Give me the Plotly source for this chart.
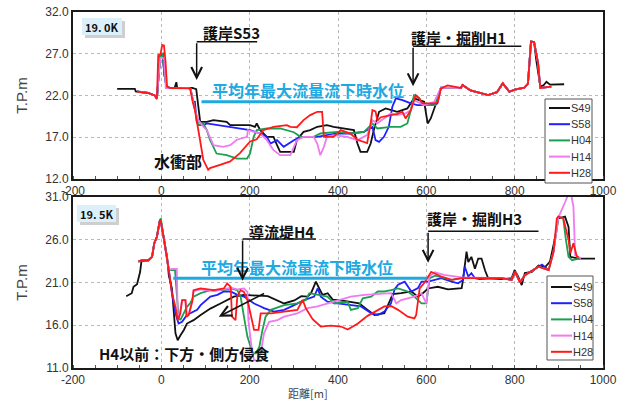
import plotly.graph_objects as go

W, H = 619, 401

series_names = ["S49", "S58", "H04", "H14", "H28"]
series_colors = ["#111111", "#1f1fff", "#1aa050", "#f07af0", "#ff1a1a"]
x_tick_labels = ["-200", "0", "200", "400", "600", "800", "1000"]

# ---------------- 19.0K (top panel) ----------------
top_s49_x = [-100, -60, -58, -45, -30, -15, -10, -6, -2, 3, 7, 12, 20, 30, 34, 36, 40, 60, 70, 79, 84, 88, 103, 118, 148, 156, 201, 212, 216, 224, 239, 254, 262, 269, 300, 307, 322, 337, 353, 375, 390, 413, 436, 444, 451, 466, 474, 481, 493, 508, 519, 534, 557, 572, 584, 595, 603, 610, 622, 629, 633, 650, 678, 682, 700, 740, 760, 773, 788, 800, 822, 830, 837, 844, 849, 858, 865, 872, 880, 912]
top_s49_y = [22.8, 22.8, 22.5, 22.4, 22.3, 22.0, 21.6, 24.5, 26.9, 27.0, 24.5, 23.0, 22.9, 22.9, 23.6, 22.9, 22.9, 22.9, 22.9, 22.75, 20.25, 18.85, 18.85, 19.05, 18.85, 18.45, 18.45, 18.25, 18.65, 17.85, 17.05, 17.05, 16.05, 15.25, 15.25, 16.7, 17.65, 17.85, 18.25, 18.45, 18.25, 18.05, 17.85, 16.25, 15.25, 15.25, 16.25, 17.85, 20.05, 20.45, 20.25, 20.05, 20.45, 21.65, 21.45, 21.25, 18.65, 19.25, 21.05, 22.25, 22.9, 22.9, 22.9, 23.25, 22.6, 22.05, 22.4, 23.45, 22.45, 22.7, 22.95, 23.4, 28.45, 28.4, 26.2, 23.1, 23.2, 23.65, 23.3, 23.35]

top_s58_x = [-55, -30, -15, -10, -6, -2, 3, 7, 12, 20, 40, 60, 66, 72, 76, 80, 84, 95, 103, 125, 148, 178, 201, 224, 239, 247, 262, 277, 300, 315, 322, 353, 375, 398, 428, 459, 478, 485, 493, 504, 515, 523, 531, 546, 565, 580, 610, 625, 633, 650, 678, 682, 700, 740, 760, 773, 788, 800, 822, 830, 837, 844, 853, 858, 883]
top_s58_y = [22.5, 22.3, 22.0, 21.6, 24.5, 26.9, 27.0, 24.5, 23.0, 22.9, 22.9, 22.9, 22.8, 21.3, 21.25, 18.85, 18.45, 18.45, 18.65, 18.45, 18.25, 18.05, 17.85, 17.45, 17.05, 16.25, 16.65, 15.85, 16.65, 17.05, 17.05, 17.05, 17.25, 17.45, 17.45, 17.65, 18.25, 16.65, 16.45, 17.05, 18.25, 20.65, 21.65, 21.45, 21.05, 20.85, 20.85, 21.05, 22.95, 22.9, 22.9, 23.25, 22.6, 22.05, 22.4, 23.45, 22.45, 22.7, 22.95, 23.4, 28.45, 28.4, 25.85, 22.9, 23.05]

top_h04_x = [-55, -30, -15, -10, -6, -2, 3, 7, 12, 20, 40, 60, 66, 72, 76, 84, 95, 103, 110, 125, 148, 171, 194, 201, 209, 216, 239, 269, 300, 315, 345, 360, 398, 428, 459, 478, 489, 519, 542, 557, 565, 572, 584, 591, 620, 633, 650, 678, 682, 700, 740, 760, 773, 788, 800, 822, 830, 837, 844, 853, 858, 883]
top_h04_y = [22.5, 22.3, 22.0, 21.6, 24.5, 26.9, 27.0, 24.5, 23.0, 22.9, 22.9, 22.9, 22.8, 21.3, 20.5, 18.45, 18.65, 17.85, 16.7, 15.05, 14.85, 14.45, 14.45, 15.05, 17.05, 17.85, 18.05, 18.05, 17.6, 17.05, 17.05, 17.45, 17.65, 17.45, 17.65, 18.65, 18.05, 18.25, 18.25, 18.65, 20.25, 22.05, 21.65, 20.85, 20.85, 22.95, 22.9, 22.9, 23.25, 22.6, 22.05, 22.4, 23.45, 22.45, 22.7, 22.95, 23.4, 28.45, 28.4, 25.85, 22.9, 23.05]

top_h14_x = [-55, -30, -15, -10, -6, -2, 3, 7, 10, 12, 20, 40, 60, 66, 72, 76, 84, 92, 103, 110, 118, 140, 156, 171, 194, 196, 224, 239, 254, 269, 292, 307, 322, 345, 353, 360, 368, 375, 390, 421, 444, 466, 478, 489, 519, 534, 553, 565, 572, 595, 618, 633, 650, 678, 682, 700, 740, 760, 773, 788, 800, 822, 830, 837, 844, 853, 858, 883]
top_h14_y = [22.5, 22.3, 22.0, 21.6, 24.5, 26.5, 26.5, 26.3, 22.9, 22.9, 22.9, 22.9, 22.9, 22.8, 21.3, 20.25, 19.05, 18.45, 17.85, 17.05, 16.05, 15.85, 16.05, 16.7, 17.05, 17.85, 17.45, 16.65, 15.45, 14.85, 14.85, 16.65, 17.05, 17.05, 16.25, 14.85, 15.85, 17.05, 17.25, 17.05, 16.65, 17.25, 19.05, 18.65, 19.85, 19.65, 19.85, 20.25, 21.45, 20.85, 21.25, 22.95, 22.9, 22.9, 23.25, 22.6, 22.05, 22.4, 23.45, 22.45, 22.7, 22.95, 23.4, 28.45, 28.4, 25.85, 22.9, 23.05]

top_h28_x = [-55, -30, -15, -10, -7, -2, 2, 6, 9.5, 13, 20, 40, 65, 71, 76, 87.5, 95, 106, 110, 133, 156, 178, 201, 216, 231, 254, 284, 292, 307, 322, 337, 353, 364, 368, 390, 406, 428, 444, 466, 474, 478, 485, 489, 497, 519, 534, 546, 553, 565, 576, 584, 591, 618, 626, 633, 648, 678, 682, 700, 740, 760, 773, 788, 800, 822, 830, 837, 844, 853, 858, 883]
top_h28_y = [22.45, 22.3, 22.0, 21.6, 26.85, 26.9, 28.05, 28.0, 26.05, 23.05, 22.9, 22.9, 22.85, 21.25, 20.25, 16.7, 14.3, 13.1, 13.3, 13.7, 14.1, 15.1, 16.5, 16.75, 17.85, 18.25, 18.45, 18.25, 18.2, 19.05, 19.65, 20.05, 20.05, 17.05, 17.05, 17.85, 17.45, 16.7, 16.3, 18.7, 20.25, 20.1, 19.0, 19.4, 19.65, 19.8, 20.05, 19.25, 20.25, 22.05, 21.7, 21.05, 21.05, 21.2, 22.85, 23.2, 22.9, 23.25, 22.6, 22.05, 22.4, 23.45, 22.45, 22.7, 22.95, 23.4, 28.45, 28.4, 25.85, 22.9, 23.05]

# ---------------- 19.5K (bottom panel) ----------------
bot_s49_x = [-79.5, -67, -63, -55, -48, -45, -29, -21, -16, -10, -4, -2, 5, 13, 17, 24, 32, 37, 43, 51, 58, 73, 89, 111, 134, 164, 187, 241, 278, 301, 317, 331, 339, 350, 357.5, 365, 376.6, 388, 414, 448, 467, 482.5, 505, 520, 524, 543, 566, 581, 592, 604, 626, 649, 680, 683, 687, 691, 695, 702, 710, 717.5, 725, 733, 740, 770, 793, 800, 808, 816, 823, 839, 854, 869, 880, 892, 899, 914, 922, 926, 945, 982]
bot_s49_y = [19.4, 19.75, 20.5, 20.8, 22.25, 23.5, 23.6, 24.0, 25.6, 26.35, 28.1, 28.4, 26.35, 24.0, 21.8, 20.3, 15.05, 14.25, 14.8, 15.45, 16.2, 16.6, 17.2, 17.95, 18.55, 19.35, 19.55, 19.4, 18.55, 18.9, 19.4, 19.35, 19.75, 21.1, 20.3, 19.55, 19.75, 19.0, 18.85, 18.55, 17.8, 17.2, 17.4, 19.35, 19.65, 19.75, 19.95, 19.35, 19.75, 20.3, 20.5, 20.2, 20.35, 21.3, 23.25, 24.6, 23.4, 24.0, 22.6, 23.8, 23.8, 22.4, 21.5, 21.4, 21.5, 22.45, 21.7, 20.7, 22.1, 22.25, 23.0, 22.8, 23.45, 26.35, 28.5, 28.7, 27.5, 24.0, 23.8, 23.8]

bot_s58_x = [-52, -44, -29, -21, -16, -10, -4, -2, 5, 13, 17, 24, 32, 39, 47, 58, 81, 89, 111, 127, 141.6, 157, 172, 187, 210, 225, 232.5, 255, 278, 301, 323, 346, 354, 361, 376, 399, 429, 452, 475, 490, 505, 520, 528, 536, 551, 566, 581, 589, 604, 634, 657, 672, 683, 687, 695, 702, 710, 720, 770, 793, 801, 812, 823, 854, 862, 877]
bot_s58_y = [23.45, 23.6, 23.6, 24.0, 25.6, 26.35, 28.1, 28.4, 26.35, 24.0, 22.45, 19.75, 17.4, 16.2, 16.4, 17.2, 17.8, 18.35, 19.35, 19.55, 19.95, 19.95, 19.55, 19.35, 18.55, 18.2, 18.0, 17.6, 17.8, 18.35, 18.95, 19.35, 20.3, 19.35, 18.75, 18.55, 18.35, 18.2, 17.4, 17.2, 17.6, 18.55, 20.2, 20.75, 21.1, 19.95, 20.35, 21.1, 21.1, 21.5, 21.1, 20.9, 21.3, 22.85, 21.7, 22.1, 21.5, 21.4, 21.5, 21.3, 22.25, 21.0, 21.85, 22.85, 23.1, 22.45]

bot_h04_x = [-52, -44, -29, -21, -16, -10, -4, -1, 5, 13, 17, 20, 31, 36, 39, 43, 51, 58, 65, 73, 89, 111, 141.6, 157, 172, 179.5, 187, 195, 202, 208, 214, 222, 229, 236, 248, 278, 308, 327, 335, 354, 376, 392, 422, 429, 445, 456, 475, 490, 505, 520, 536, 558, 573, 589, 600, 607.5, 620, 657, 680, 770, 793, 801, 812, 823, 854, 877, 888, 899, 910, 916, 922, 930, 945]
bot_h04_y = [23.45, 23.6, 23.6, 24.0, 25.6, 26.35, 28.2, 28.5, 26.35, 24.0, 22.45, 22.45, 22.45, 18.95, 17.0, 16.6, 17.4, 18.15, 18.55, 19.35, 19.75, 20.1, 20.1, 20.3, 20.1, 19.35, 17.0, 14.65, 13.5, 12.7, 12.7, 13.5, 15.45, 17.0, 17.8, 18.35, 18.55, 18.95, 19.75, 19.55, 19.35, 18.55, 18.75, 17.8, 18.0, 19.15, 19.35, 19.95, 19.95, 20.1, 20.3, 19.95, 19.35, 18.55, 18.55, 21.5, 21.8, 21.3, 21.5, 21.5, 21.3, 22.25, 21.0, 21.85, 22.85, 22.45, 24.6, 28.7, 28.5, 26.0, 24.0, 23.6, 23.8]

bot_h14_x = [-52, -44, -29, -21, -16, -10, -4, -2, 5, 13, 17, 24, 35, 37, 40, 47, 55, 58, 62, 70, 73, 89, 119, 141.6, 157, 172, 187, 195, 197, 206, 210, 217, 225, 232.5, 244, 263, 278, 308, 331, 354, 376, 399, 429, 460, 490, 520, 532, 543, 573, 589, 600, 607, 619, 640, 680, 770, 793, 801, 812, 823, 854, 877, 888, 899, 915, 922, 927, 933, 937, 950]
bot_h14_y = [23.45, 23.6, 23.6, 24.0, 25.6, 26.35, 28.1, 28.4, 26.35, 24.0, 22.45, 22.6, 22.6, 17.5, 16.8, 18.9, 18.9, 17.1, 17.2, 18.8, 20.0, 20.2, 20.0, 20.2, 20.4, 20.2, 20.3, 19.9, 16.6, 12.7, 11.95, 11.8, 12.7, 15.05, 16.4, 16.6, 17.0, 17.4, 18.0, 18.2, 18.55, 18.95, 19.35, 19.55, 19.65, 19.75, 18.55, 18.95, 19.35, 19.75, 18.55, 21.7, 22.2, 21.9, 21.6, 21.5, 21.3, 22.2, 21.0, 21.85, 22.85, 22.45, 24.6, 28.6, 30.5, 31.4, 31.5, 29.9, 24.2, 23.8]

bot_h28_x = [-52, -44, -29, -21, -16, -10, -4, -2, 5, 13, 17, 24, 32, 37, 43, 47, 54.5, 57, 62, 70, 73, 88.6, 119, 141.6, 149, 157, 160, 168, 172, 179.5, 187, 195, 202, 206, 210, 220, 225, 248, 278, 308, 320, 327, 342.5, 361, 384, 407, 422, 445, 467, 490, 505, 520, 536, 558, 573, 577, 585, 596, 611, 619, 634, 657, 680, 770, 793, 801, 812, 823, 854, 877, 888, 895.5, 899, 910, 922, 926, 933, 941, 945]
bot_h28_y = [23.45, 23.6, 23.6, 24.0, 25.6, 26.35, 28.1, 28.4, 26.35, 24.0, 22.45, 19.75, 18.15, 16.6, 17.4, 18.95, 18.95, 17.0, 17.2, 18.8, 20.1, 20.3, 20.1, 20.3, 20.9, 20.5, 17.0, 16.6, 19.35, 20.1, 19.9, 18.95, 17.4, 16.2, 15.45, 15.45, 17.4, 17.4, 17.6, 17.8, 18.95, 18.0, 16.7, 15.85, 15.95, 15.85, 15.5, 16.2, 17.1, 17.8, 18.2, 18.25, 17.8, 17.0, 16.8, 17.2, 20.3, 21.0, 22.25, 22.05, 21.7, 21.3, 21.5, 21.5, 21.3, 22.25, 21.0, 21.85, 22.85, 22.45, 24.6, 28.5, 28.7, 28.5, 26.0, 24.4, 25.6, 24.0, 24.0]

# water level lines (平均年最大流量流下時水位)
top_wl_x = [91, 523]
top_wl_y = [21.25, 21.25]
bot_wl_x = [27, 601]
bot_wl_y = [21.5, 21.5]

top_data = [(top_s49_x, top_s49_y), (top_s58_x, top_s58_y), (top_h04_x, top_h04_y),
            (top_h14_x, top_h14_y), (top_h28_x, top_h28_y)]
bot_data = [(bot_s49_x, bot_s49_y), (bot_s58_x, bot_s58_y), (bot_h04_x, bot_h04_y),
            (bot_h14_x, bot_h14_y), (bot_h28_x, bot_h28_y)]

fig = go.Figure()
CYAN = "#1fa9e1"

for (xs, ys), name, col in zip(top_data, series_names, series_colors):
    fig.add_trace(go.Scatter(x=xs, y=ys, mode="lines", name=name, showlegend=False,
                             line=dict(color=col, width=1.8), xaxis="x", yaxis="y"))
fig.add_trace(go.Scatter(x=top_wl_x, y=top_wl_y, mode="lines", showlegend=False,
                         line=dict(color=CYAN, width=3), xaxis="x", yaxis="y"))
for (xs, ys), name, col in zip(bot_data, series_names, series_colors):
    fig.add_trace(go.Scatter(x=xs, y=ys, mode="lines", name=name, showlegend=False,
                             line=dict(color=col, width=1.8), xaxis="x2", yaxis="y2"))
fig.add_trace(go.Scatter(x=bot_wl_x, y=bot_wl_y, mode="lines", showlegend=False,
                         line=dict(color=CYAN, width=3), xaxis="x2", yaxis="y2"))

def px_x(p):
    return p / W

def px_y(p):
    return 1 - p / H

SANS = "Liberation Sans, Arial, sans-serif"
tickfont = dict(family=SANS, size=12, color="#333333")
xdom = [px_x(73), px_x(603)]
common_x = dict(range=[-200, 1000], tickvals=[-200, 0, 200, 400, 600, 800, 1000],
                ticktext=x_tick_labels, showgrid=True, gridcolor="#b8b8b8", griddash="dot",
                gridwidth=1, showline=True, linecolor="#1a1a1a", linewidth=2, mirror=True,
                ticks="", tickfont=tickfont, zeroline=False, domain=xdom, automargin=False,
                minor=dict(ticks="inside", dtick=50, ticklen=3, tickcolor="#555", showgrid=False))
common_y = dict(showgrid=True, gridcolor="#b8b8b8", griddash="dot", gridwidth=1,
                showline=True, linecolor="#1a1a1a", linewidth=2, mirror=True, ticks="",
                tickfont=tickfont, zeroline=False, tickformat=".1f", automargin=False,
                title=dict(text="T.P.m", font=dict(family=SANS, size=15, color="#444444"), standoff=14))

fig.update_layout(
    width=W, height=H, margin=dict(l=0, r=0, t=0, b=0, autoexpand=False),
    paper_bgcolor="white", plot_bgcolor="white", showlegend=False,
    xaxis=dict(common_x, anchor="y"),
    yaxis=dict(common_y, domain=[px_y(179), px_y(12)], range=[12, 32],
               tickvals=[12, 17, 22, 27, 32], anchor="x"),
    xaxis2=dict(common_x, anchor="y2"),
    yaxis2=dict(common_y, domain=[px_y(368), px_y(197)], range=[11, 31],
                tickvals=[11, 16, 21, 26, 31], anchor="x2"),
)

JP = "Noto Sans CJK JP, sans-serif"
ann = []
shapes = []

def txt(x, y, s, size=15, color="#111111", xanchor="center"):
    ann.append(dict(x=x, y=y, xref="paper", yref="paper", text=s, showarrow=False,
                    xanchor=xanchor, yanchor="middle",
                    font=dict(family=JP, size=size, color=color)))

# panel labels with shadow
for (x0, y0, x1, y1, label) in [(82, 18, 122, 35, "<b>19. 0K</b>"), (77, 205, 116, 222, "<b>19. 5K</b>")]:
    shapes.append(dict(type="rect", xref="paper", yref="paper", x0=px_x(x0 + 3), x1=px_x(x1 + 3),
                       y0=px_y(y1 + 3), y1=px_y(y0 + 3), fillcolor="#cfcfcf", line=dict(width=0)))
    shapes.append(dict(type="rect", xref="paper", yref="paper", x0=px_x(x0), x1=px_x(x1),
                       y0=px_y(y1), y1=px_y(y0), fillcolor="#dcf0fb", line=dict(width=0)))
    txt(px_x((x0 + x1) / 2), px_y((y0 + y1) / 2), label, size=11)

# legends (one per panel)
LEG_FONT = dict(family="Liberation Sans Narrow, Liberation Sans, Arial, sans-serif", size=11, color="#333333")
for (bx0, by0, bx1, by1, row0) in [(545, 99, 592, 183, 108), (547, 276, 593, 360, 287)]:
    shapes.append(dict(type="rect", xref="paper", yref="paper", x0=px_x(bx0), x1=px_x(bx1),
                       y0=px_y(by1), y1=px_y(by0), fillcolor="white",
                       line=dict(color="#555555", width=1)))
    for i, (name, col) in enumerate(zip(series_names, series_colors)):
        ry = row0 + i * 16.2
        shapes.append(dict(type="line", xref="paper", yref="paper", x0=px_x(bx0 + 4), x1=px_x(bx0 + 25),
                           y0=px_y(ry), y1=px_y(ry), line=dict(color=col, width=2)))
        ann.append(dict(x=px_x(bx0 + 24), y=px_y(ry), xref="paper", yref="paper", text=name,
                        showarrow=False, xanchor="left", yanchor="middle", font=LEG_FONT))

# top panel texts
txt(px_x(231), px_y(33), "<b>護岸S53</b>", size=15)
txt(px_x(458), px_y(38), "<b>護岸・掘削H1</b>", size=15)
txt(px_x(178), px_y(161), "<b>水衝部</b>", size=16)
txt(px_x(308), px_y(90), "<b>平均年最大流量流下時水位</b>", size=16, color=CYAN)
# bottom panel texts
txt(px_x(281), px_y(231), "<b>導流堤H4</b>", size=15)
txt(px_x(474), px_y(218), "<b>護岸・掘削H3</b>", size=15)
txt(px_x(297), px_y(267), "<b>平均年最大流量流下時水位</b>", size=16, color=CYAN)
txt(px_x(184), px_y(353), "<b>H4以前：下方・側方侵食</b>", size=15)
# axis title
txt(px_x(308), px_y(393), "距離[m]", size=11, color="#444444")

# leader lines and arrows
def hline(xr, yr, x0, x1, y):
    shapes.append(dict(type="line", xref=xr, yref=yr, x0=x0, x1=x1, y0=y, y1=y,
                       line=dict(color="#111111", width=1.5)))

def arrow(xr, yr, tx, ty, ax, ay):
    ann.append(dict(x=tx, y=ty, ax=ax, ay=ay, xref=xr, yref=yr, axref=xr, ayref=yr,
                    showarrow=True, arrowhead=5, arrowsize=1.4, arrowwidth=1.5,
                    arrowcolor="#111111", text=""))

# 護岸S53
hline("x", "y", 80, 217, 28.45)
arrow("x", "y", 80, 23.85, 80, 28.45)
# 護岸・掘削H1
hline("x", "y", 570, 815, 27.9)
arrow("x", "y", 570, 23.1, 570, 27.9)
# 導流堤H4
hline("x2", "y2", 184, 350, 26.1)
arrow("x2", "y2", 184, 21.2, 184, 26.1)
# 護岸・掘削H3
hline("x2", "y2", 604, 854, 27.0)
arrow("x2", "y2", 604, 23.3, 604, 27.0)
# erosion arrow
arrow("x2", "y2", 130, 17.0, 236, 19.8)

fig.update_layout(annotations=ann, shapes=shapes)
fig.write_html("out.html", config={"displayModeBar": False},
               post_script="document.body.style.margin='0';document.body.style.overflow='hidden';")
